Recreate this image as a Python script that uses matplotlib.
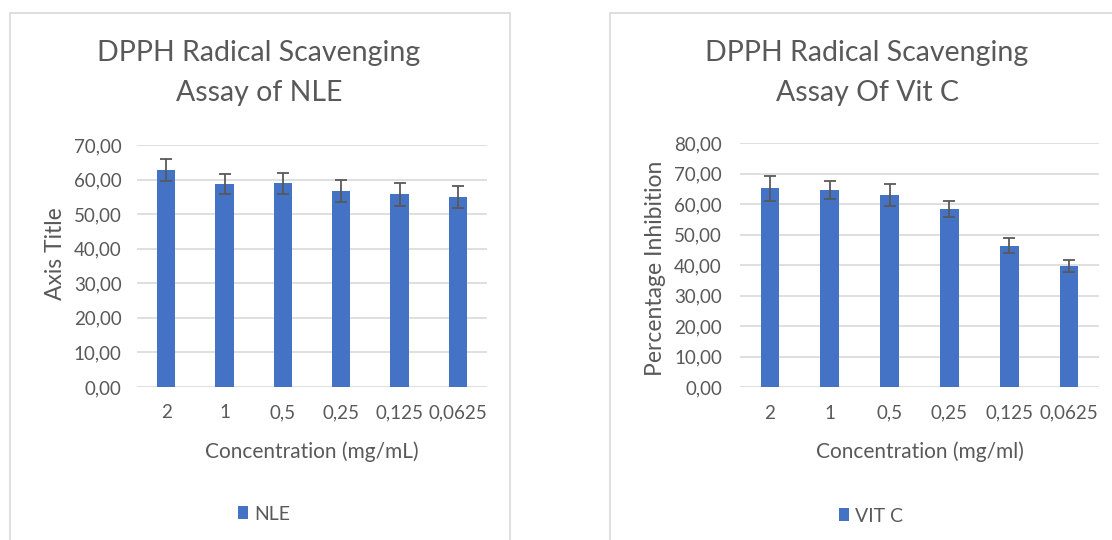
import matplotlib
matplotlib.use("Agg")
import matplotlib.pyplot as plt
from matplotlib.patches import Rectangle
from matplotlib.ticker import FuncFormatter

plt.rcParams['font.family'] = ['Lato', 'DejaVu Sans']

categories = ["2", "1", "0,5", "0,25", "0,125", "0,0625"]
nle_values = [62.7, 58.7, 58.9, 56.6, 55.7, 55.0]
nle_errors = [3.2, 2.9, 3.0, 3.2, 3.2, 3.2]
vitc_values = [65.2, 64.7, 63.0, 58.4, 46.4, 39.8]
vitc_errors = [4.0, 3.1, 3.5, 2.7, 2.5, 1.9]

W, H = 1112, 540
fig = plt.figure(figsize=(W / 100, H / 100), dpi=100)
fig.patch.set_facecolor("white")

BAR = "#4472C4"
GRID = "#d9d9d9"
TXT = "#595959"


def px_rect(x0, y0, x1, y1):
    return [x0 / W, 1 - y1 / H, (x1 - x0) / W, (y1 - y0) / H]


# panel frames
for (x0, x1) in [(10, 510), (610, 1132)]:
    fig.patches.append(Rectangle((x0 / W, -0.05), (x1 - x0) / W, 1 - 13 / H + 0.05,
                                 transform=fig.transFigure, facecolor="none",
                                 edgecolor=GRID, linewidth=1.2, zorder=-1))

fmt = FuncFormatter(lambda v, p: f"{v:.2f}".replace(".", ","))


def draw(rect, values, errors, ymax, title1, title2, ylabel, xlabel, legend_label,
         title_cx, legend_cx, legend_y, ylab_x, ylab_y, ypad):
    ax = fig.add_axes(px_rect(*rect))
    ax.set_facecolor("none")
    x = range(len(categories))
    bars = ax.bar(x, values, width=0.31, color=BAR, zorder=3, label=legend_label)
    ax.errorbar(x, values, yerr=errors, fmt="none", ecolor=TXT, elinewidth=1.3,
                capsize=4, capthick=1.3, zorder=4)
    ax.set_xlim(-0.5, len(categories) - 0.5)
    ax.set_ylim(0, ymax)
    ax.set_yticks(range(0, ymax + 1, 10))
    ax.yaxis.set_major_formatter(fmt)
    ax.set_xticks(list(x))
    ax.set_xticklabels(categories)
    ax.grid(axis="y", color=GRID, linewidth=1.2, zorder=0)
    ax.set_axisbelow(True)
    for s in ax.spines.values():
        s.set_visible(False)
    ax.tick_params(axis="both", length=0, labelsize=13.5, labelcolor=TXT)
    ax.tick_params(axis="y", pad=ypad)
    ax.tick_params(axis="x", pad=12.5)
    axh = rect[3] - rect[1]
    ax.set_xlabel(xlabel, fontsize=15, color=TXT)
    ax.xaxis.label.set_va("center")
    ax.xaxis.set_label_coords(0.5, -(452 - rect[3]) / axh)
    fig.text(ylab_x / W, 1 - ylab_y / H, ylabel, rotation=90, ha="center", va="center",
             fontsize=16.5, color=TXT)
    fig.text(title_cx / W, 1 - 53 / H, title1, ha="center", va="center",
             fontsize=20.5, color=TXT)
    fig.text(title_cx / W, 1 - 93 / H, title2, ha="center", va="center",
             fontsize=20.5, color=TXT)
    fig.legend(handles=[bars], labels=[legend_label], loc="center",
               bbox_to_anchor=(legend_cx / W, 1 - legend_y / H), frameon=False,
               handlelength=0.5, handleheight=0.6, handletextpad=0.3,
               fontsize=14, labelcolor=TXT)
    return ax


draw((137, 145, 487, 387), nle_values, nle_errors, 70,
     "DPPH Radical Scavenging", "Assay of NLE", "Axis Title",
     "Concentration (mg/mL)", "NLE", 259, 264, 514, 55, 254, 11)
draw((740, 143.3, 1099, 387.3), vitc_values, vitc_errors, 80,
     "DPPH Radical Scavenging", "Assay Of Vit C", "Percentage Inhibition",
     "Concentration (mg/ml)", "VIT C", 867, 871, 516, 655, 268, 13)

fig.savefig("out.png", dpi=100, facecolor="white")
